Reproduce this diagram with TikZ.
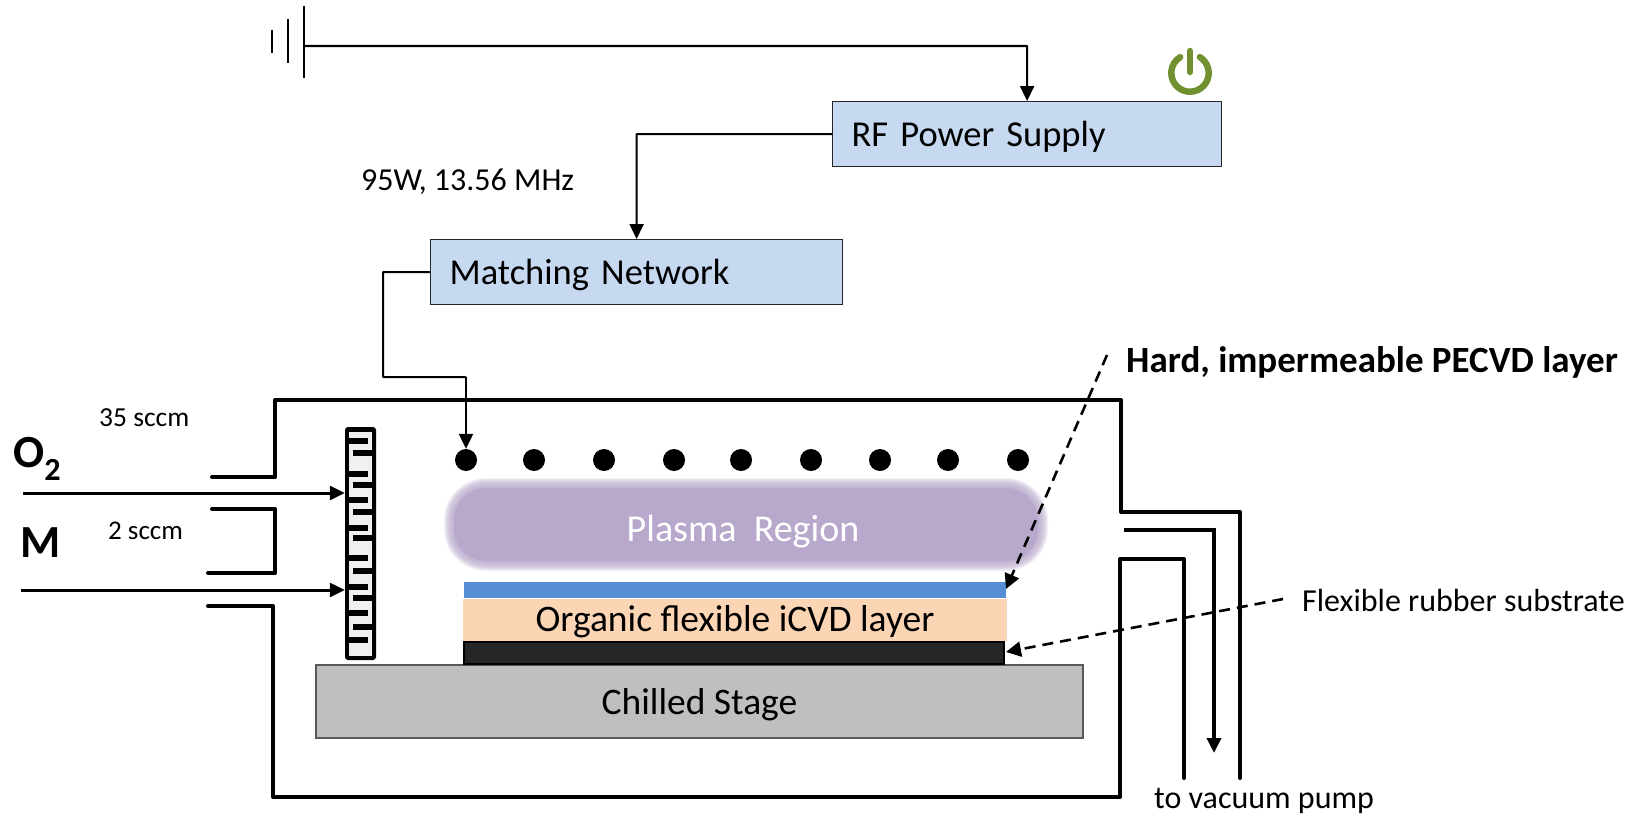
\documentclass[tikz,border=0pt]{standalone}
\usepackage{fontspec}
\setmainfont{Carlito}
\usetikzlibrary{arrows.meta,calc}
\definecolor{boxblue}{HTML}{C6D9F1}
\definecolor{plasma}{HTML}{B8A8CB}
\definecolor{hardblue}{HTML}{558ED5}
\definecolor{orangel}{HTML}{FCD5B5}
\definecolor{stagegray}{HTML}{BFBFBF}
\definecolor{powergreen}{HTML}{71902F}
\tikzset{
 tip/.style={-{Triangle[length=15pt,width=14pt]}},
 wire/.style={line width=2.2pt,tip,rounded corners=0.5pt},
 thinwire/.style={line width=2pt,rounded corners=0.5pt},
 gasline/.style={line width=3pt,tip},
 wall/.style={line width=4pt,line cap=round,line join=round},
 dasharrow/.style={line width=2.6pt,dash pattern=on 11pt off 7pt,-{Triangle[length=15pt,width=15pt]}},
 ctrlbox/.style={draw=black!85,line width=1.2pt,fill=boxblue,align=left,anchor=north west,inner xsep=19pt,inner ysep=0pt,text height=30pt,text depth=5pt,font=\fontsize{36.5}{42}\selectfont},
 lbl/.style={inner sep=0pt,anchor=west},
}
\begin{document}
\begin{tikzpicture}[x=1pt,y=-1pt]
\useasboundingbox (0,0) rectangle (1638,816);
% ground
\coordinate (gnd) at (304,46);
\draw[line width=1.8pt] (304,6) -- (304,78);
\draw[line width=1.8pt] (288,19) -- (288,63);
\draw[line width=1.8pt] (272,30) -- (272,53);
% boxes
\node[ctrlbox,minimum width=389pt,minimum height=65pt,text width=351pt] (rf) at (832,101) {RF Power Supply};
\node[ctrlbox,minimum width=412pt,minimum height=65pt,text width=374pt] (mn) at (430,239) {Matching Network};
\draw[wire] (gnd) -| (rf.north);
\draw[wire] (rf.west) -| (mn.north);
% power icon
\draw[powergreen,line width=6.5pt,line cap=round] (1190,73) ++(58:18.7pt) arc[start angle=58,end angle=-238,radius=18.7pt];
\draw[powergreen,line width=6.5pt,line cap=round] (1190,51) -- (1190,72);
% chamber
\draw[wall] (212,477) -- (275,477) -- (275,400) -- (1121,400) -- (1121,512) -- (1240,512) -- (1240,778);
\draw[wall] (212,509) -- (275,509) -- (275,573) -- (208,573);
\draw[wall] (208,606) -- (273,606) -- (273,797) -- (1120,797) -- (1120,559) -- (1184,559) -- (1184,778);
\coordinate (ventstart) at (1124,530);
\coordinate (ventend) at (1214,753);
\draw[line width=3.5pt,tip] (ventstart) -| (ventend);
% stage and layers
\node[draw=black!65,line width=1.2pt,fill=stagegray,minimum width=767pt,minimum height=73pt,inner sep=0pt,text height=30pt,text depth=5pt,font=\fontsize{37.5}{42}\selectfont] (stage) at (699.5,701.5) {Chilled Stage};
\fill[black] (463,641) rectangle (1005,665);
\fill[black!85] (465,643) rectangle (1003,663);
\node[fill=orangel,minimum width=544pt,minimum height=42pt,inner sep=0pt,text height=29pt,text depth=6pt,font=\fontsize{37.5}{40}\selectfont] (org) at (735,619.5) {Organic flexible iCVD layer};
\fill[hardblue] (464,582) rectangle (1006,598);
% plasma
\foreach \e in {10,9,8,7,6,5,4,3,2,1}
 \fill[plasma,opacity=0.17,rounded corners={(32+\e)*1pt}] (454-\e,488-\e) rectangle (1038+\e,561+\e);
\fill[plasma,rounded corners=32pt] (454,488) rectangle (1038,561);
\node[text=white,inner sep=0pt,font=\fontsize{38}{42}\selectfont] (pl) at (743,532) {Plasma\ \ Region};
% dots
\foreach \n/\x in {1/466,2/534,3/604,4/674,5/741,6/811,7/880,8/948,9/1018}
 \node[circle,fill=black,minimum size=22pt,inner sep=0pt] (d\n) at (\x,460) {};
\coordinate (feed) at (383,377);
\draw[thinwire] (mn.west) -| (feed) -- (feed -| d1.north) coordinate (feedr);
\draw[wire] (feedr) -- (d1.north);
% serpentine diffuser
\node[fill=black,rounded corners=3pt,minimum width=31pt,minimum height=233pt,inner sep=0pt] (gs) at (360.5,543.5) {};
\fill[black!6] (349,432) rectangle (372,656);
\foreach \y in {441,474,500,528,558,587,613,640}
 \fill[black] (347,{\y-3}) rectangle (368,{\y+3});
\foreach \y in {453,485,512,538,571,598,627}
 \fill[black] (353,{\y-3}) rectangle (374,{\y+3});
% gas lines
\coordinate (o2s) at (23,493);
\coordinate (ms) at (21,590);
\draw[gasline] (o2s) -- (o2s -| gs.west);
\draw[gasline] (ms) -- (ms -| gs.west);
% labels
\node[lbl,font=\fontsize{32}{36}\selectfont] (w) at (361,182) {95W, 13.56 MHz};
\node[lbl,font=\fontsize{27.5}{30}\selectfont] (s35) at (99,418) {35 sccm};
\node[lbl,font=\fontsize{27}{30}\selectfont] (s2) at (108,531) {2 sccm};
\node[lbl,font=\bfseries\fontsize{46}{50}\selectfont] (o2) at (13,459) {O\textsubscript{2}};
\node[lbl,font=\bfseries\fontsize{46}{50}\selectfont] (m) at (20,543) {M};
\node[lbl,font=\bfseries\fontsize{37}{40}\selectfont] (hard) at (1126,362) {Hard, impermeable PECVD layer};
\node[lbl,font=\fontsize{32}{36}\selectfont] (flex) at (1302,601) {Flexible rubber substrate};
\node[lbl,font=\fontsize{32}{36}\selectfont] (vac) at (1154,801) {to vacuum pump};
% dashed arrows
\coordinate (h1) at (1107,355);
\coordinate (h2) at (1006,589);
\coordinate (f1) at (1283,599);
\coordinate (f2) at (1006,652);
\draw[dasharrow] (h1) -- (h2);
\draw[dasharrow] (f1) -- (f2);
\end{tikzpicture}
\end{document}
